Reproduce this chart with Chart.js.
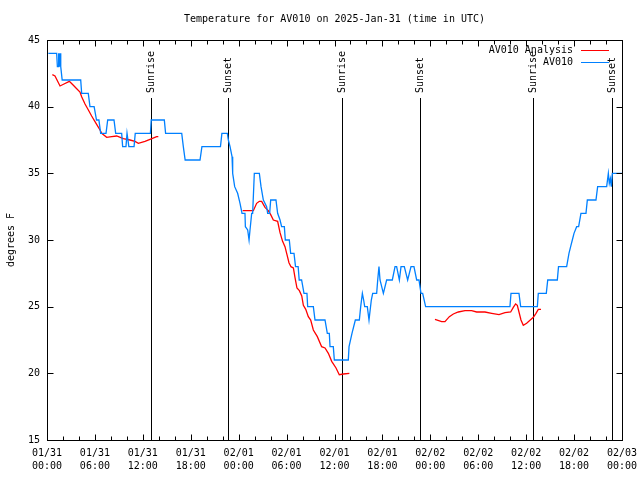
<!DOCTYPE html>
<html>
<head>
<meta charset="utf-8">
<script src="https://cdn.jsdelivr.net/npm/chart.js@4.4.1/dist/chart.umd.min.js"></script>
<style>
html, body { margin: 0; padding: 0; background: #fff; }
#graph { display: block; }
</style>
</head>
<body>
<canvas id="graph" width="640" height="480"></canvas>
<script>
// all times are hours since 01/31 00:00 UTC
const obsHours = [0.17, 1.21, 1.3, 1.38, 1.46, 1.55, 1.63, 1.72, 1.9, 2.1, 4.22, 4.34, 5.17, 5.38, 5.9, 6.2, 6.5, 6.72, 7.39, 7.6,
  8.39, 8.6, 9.35, 9.47, 9.89, 10.02, 10.12, 10.25, 10.9, 11.05, 12.95, 13.05, 14.69, 14.85, 16.87, 17.07, 17.3, 19.16, 19.4, 21.72,
  21.9, 22.58, 22.71, 22.92, 23.17, 23.25, 23.5, 23.87, 24.17, 24.42, 24.79, 24.84, 25.13, 25.3, 25.42, 25.63, 25.75, 25.96, 26.59, 26.8,
  27.09, 27.5, 27.63, 27.88, 28.01, 28.67, 28.88, 29.18, 29.38, 29.72, 29.84, 30.34, 30.51, 30.93, 31.12, 31.45, 31.58, 31.88, 32.18, 32.55,
  32.64, 33.35, 33.56, 34.81, 35.1, 35.35, 35.44, 35.85, 35.98, 37.73, 37.82, 38.19, 38.61, 39.11, 39.28, 39.49, 39.65, 39.78, 40.11, 40.32,
  40.61, 40.78, 41.28, 41.41, 41.57, 41.7, 42.12, 42.53, 43.24, 43.58, 43.78, 44.12, 44.33, 44.74, 45.16, 45.58, 45.95, 46.29, 46.58, 46.83,
  47.04, 47.41, 57.97, 58.1, 59.1, 59.31, 61.4, 61.52, 62.52, 62.7, 63.9, 64.05, 65.07, 65.36, 65.57, 65.78, 65.99, 66.32, 66.57, 66.86,
  67.49, 67.66, 68.74, 68.95, 70.08, 70.29, 70.41, 70.54, 70.66, 70.79, 72];
const obsTemps = [44, 44, 43, 43, 44, 43, 44, 43, 42, 42, 42, 41, 41, 40, 40, 39, 39, 38, 38, 39,
  39, 38, 38, 37, 37, 38, 38, 37, 37, 38, 38, 39, 39, 38, 38, 37, 36, 36, 37, 37,
  38, 38, 37.5, 37, 36.25, 35, 34, 33.5, 32.75, 32, 32, 31, 30.75, 30, 30.75, 32, 32, 35, 35, 34,
  33, 32.5, 32, 32, 33, 33, 32, 31.5, 31, 31, 30, 30, 29, 29, 28, 28, 27, 27, 26, 26,
  25, 25, 24, 24, 23, 23, 22, 22, 21, 21, 22, 23, 24, 24, 25, 26, 25.5, 25, 25, 24,
  25.5, 26, 26, 27, 28, 27, 26, 27, 27, 28, 28, 27, 28, 28, 27, 28, 28, 27, 27, 26,
  26, 25, 25, 26, 26, 25, 25, 26, 26, 27, 27, 28, 28, 29, 29.5, 30, 30.5, 31, 31, 32,
  32, 33, 33, 34, 34, 35, 34.25, 34.6, 34, 35, 35];

// analysis, null = no analysis available
const anaHours = [0.67, 1.0, 1.63, 2.13, 2.8, 3.3, 3.63, 4.13, 4.34, 4.76, 5.18, 5.59, 6.14, 6.64, 6.85, 7.47, 8.1, 8.72, 9.56, 10.39,
  11.02, 11.44, 12.27, 12.9, 13.73, 13.94, 19,
  24.5, 25.84, 26.25, 26.59, 26.88, 27.3, 27.71, 28.01, 28.34, 28.88, 29.18, 29.5, 29.8, 30.05, 30.3, 30.55, 30.85, 31.05, 31.3, 31.6,
  31.9, 32.1, 32.4, 32.72, 33.02, 33.35, 33.85, 34.39, 34.81, 35.23, 35.65, 36.19, 36.6, 37.11, 37.86, 43,
  48.58, 49.42, 49.83, 50.38, 50.88, 51.5, 52.34, 53.17, 53.8, 54.84, 55.68, 56.6, 57.35, 58.06, 58.39, 58.68, 58.89, 59.1, 59.35, 59.64,
  60.06, 60.69, 60.9, 61.23, 61.52, 61.86];
const anaTemps = [42.4, 42.3, 41.55, 41.7, 41.9, 41.6, 41.4, 41.1, 40.75, 40.2, 39.75, 39.3, 38.75, 38.25, 38, 37.7, 37.75, 37.8, 37.6, 37.5,
  37.4, 37.25, 37.4, 37.55, 37.75, 37.75, null,
  32.2, 32.2, 32.75, 32.9, 32.9, 32.45, 32.2, 31.9, 31.5, 31.4, 30.55, 29.9, 29.5, 28.9, 28.3, 28, 27.9, 27.2, 26.4, 26.2,
  25.8, 25.1, 24.8, 24.25, 24, 23.25, 22.75, 22, 21.9, 21.5, 20.9, 20.4, 19.9, 19.95, 20, null,
  24.05, 23.875, 23.875, 24.25, 24.45, 24.6, 24.7, 24.7, 24.6, 24.6, 24.5, 24.4, 24.55, 24.6, 24.95, 25.2, 25.1, 24.6, 24.0, 23.6,
  23.75, 24.1, 24.2, 24.5, 24.8, 24.8];

const sunHours = [12.98, 22.71, 36.98, 46.75, 60.9, 70.8];
const sunLabels = ['Sunrise', 'Sunset', 'Sunrise', 'Sunset', 'Sunrise', 'Sunset'];

const tickDates = ['01/31', '01/31', '01/31', '01/31', '02/01', '02/01', '02/01', '02/01', '02/02', '02/02', '02/02', '02/02', '02/03'];
const tickTimes = ['00:00', '06:00', '12:00', '18:00', '00:00', '06:00', '12:00', '18:00', '00:00', '06:00', '12:00', '18:00', '00:00'];

const seriesNames = ['AV010 Analysis', 'AV010'];
const seriesColors = ['#ff0000', '#0080ff'];

const FONT = '"DejaVu Sans Mono", monospace';
const ctx = document.querySelector('#graph').getContext('2d');

function toPoints(xs, ys) {
    return xs.map((x, i) => ({x: x, y: ys[i]}));
}

// gnuplot look: frame, inward ticks, sun lines, legend, title
const gnuplotDecor = {
    id: 'gnuplotDecor',
    beforeDatasetsDraw(chart) {
        const c = chart.ctx;
        const a = chart.chartArea;
        const xs = chart.scales.x;
        c.save();
        c.strokeStyle = '#000';
        c.lineWidth = 1;
        c.fillStyle = '#000';
        c.font = '10px ' + FONT;
        sunHours.forEach((h, i) => {
            const px = Math.round(xs.getPixelForValue(h)) + 0.5;
            c.beginPath();
            c.moveTo(px, 98);
            c.lineTo(px, a.bottom);
            c.stroke();
            c.save();
            c.translate(px, 93);
            c.rotate(-Math.PI / 2);
            c.textAlign = 'left';
            c.textBaseline = 'middle';
            c.fillText(sunLabels[i], 0, 0);
            c.restore();
        });
        c.restore();
    },
    afterDraw(chart) {
        const c = chart.ctx;
        const a = chart.chartArea;
        const xs = chart.scales.x;
        const ys = chart.scales.y;
        c.save();
        c.strokeStyle = '#000';
        c.lineWidth = 1;
        const L = Math.round(a.left) + 0.5, R = Math.round(a.right) + 0.5;
        const T = Math.round(a.top) + 0.5, B = Math.round(a.bottom) + 0.5;
        c.beginPath();
        for (let h = 0; h <= 72; h += 2) {
            const px = Math.round(xs.getPixelForValue(h)) + 0.5;
            const len = (h % 6 === 0) ? 6 : 4;
            c.moveTo(px, B); c.lineTo(px, B - len);
            c.moveTo(px, T); c.lineTo(px, T + len);
        }
        for (let v = 15; v <= 45; v += 5) {
            const py = Math.round(ys.getPixelForValue(v)) + 0.5;
            c.moveTo(L, py); c.lineTo(L + 6, py);
            c.moveTo(R, py); c.lineTo(R - 6, py);
        }
        c.stroke();
        c.strokeRect(L, T, R - L, B - T);

        c.fillStyle = '#000';
        c.font = '10px ' + FONT;
        c.textBaseline = 'middle';
        c.textAlign = 'center';
        c.fillText('Temperature for AV010 on 2025-Jan-31 (time in UTC)', (a.left + a.right) / 2, 19);

        c.textAlign = 'right';
        seriesNames.forEach((name, i) => {
            const y = 50 + i * 12;
            c.fillStyle = '#000';
            c.fillText(name, 573, y + 0.5);
            c.strokeStyle = seriesColors[i];
            c.beginPath();
            c.moveTo(581, y + 0.5);
            c.lineTo(609, y + 0.5);
            c.stroke();
        });

        c.save();
        c.translate(11, (a.top + a.bottom) / 2);
        c.rotate(-Math.PI / 2);
        c.textAlign = 'center';
        c.fillStyle = '#000';
        c.fillText('degrees F', 0, 0);
        c.restore();
        c.restore();
    }
};

const tempChart = new Chart(ctx, {
    type: 'line',
    data: {
        datasets: [{
            label: seriesNames[1],
            data: toPoints(obsHours, obsTemps),
            borderColor: seriesColors[1],
            borderWidth: 1.3,
            pointRadius: 0,
            tension: 0,
            order: 0
        }, {
            label: seriesNames[0],
            data: toPoints(anaHours, anaTemps),
            borderColor: seriesColors[0],
            borderWidth: 1.3,
            pointRadius: 0,
            tension: 0,
            spanGaps: false,
            order: 1
        }]
    },
    plugins: [gnuplotDecor],
    options: {
        responsive: false,
        animation: false,
        devicePixelRatio: 1,
        layout: {padding: {top: 40, right: 18, left: 0, bottom: 0}},
        plugins: {
            legend: {display: false},
            title: {display: false},
            tooltip: {enabled: false}
        },
        scales: {
            x: {
                type: 'linear',
                min: 0,
                max: 72,
                grid: {display: false, drawTicks: false},
                border: {display: false},
                afterFit: (scale) => {
                    scale.height = 40;
                    scale.paddingLeft = 0;
                    scale.paddingRight = 0;
                },
                ticks: {
                    stepSize: 6,
                    autoSkip: false,
                    maxRotation: 0,
                    padding: 7,
                    color: '#000',
                    font: {family: FONT, size: 10, lineHeight: 1.3},
                    callback: (value, index) => [tickDates[index], tickTimes[index]]
                }
            },
            y: {
                min: 15,
                max: 45,
                grid: {display: false, drawTicks: false},
                border: {display: false},
                afterFit: (scale) => {
                    scale.width = 47;
                    scale.paddingTop = 0;
                    scale.paddingBottom = 0;
                },
                ticks: {
                    stepSize: 5,
                    padding: 7,
                    color: '#000',
                    font: {family: FONT, size: 10}
                }
            }
        }
    }
});
</script>
</body>
</html>
